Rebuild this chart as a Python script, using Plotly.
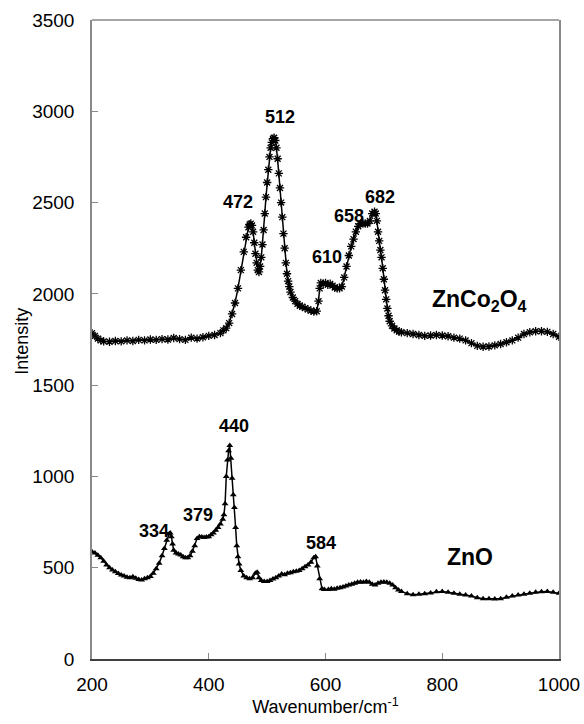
import plotly.graph_objects as go

# ---------------- data ----------------
znco_x = [200, 205, 210, 215, 220, 230, 240, 250, 260, 270, 280, 290, 300, 310, 320, 330, 340, 350,
          360, 370, 380, 390, 400, 410, 420, 425, 430, 435, 440, 445, 450, 455, 460, 464, 468, 470,
          472, 474, 476, 478, 480, 482, 484, 486, 488, 490, 492, 494, 496, 498, 500, 502, 504, 506,
          508, 510, 512, 514, 516, 518, 520, 522, 524, 526, 528, 530, 532, 534, 536, 538, 540, 544,
          548, 552, 556, 560, 565, 570, 575, 580, 585, 588, 590, 592, 596, 600, 604, 608, 612, 616,
          620, 624, 628, 632, 636, 640, 644, 648, 652, 656, 660, 664, 668, 672, 676, 680, 684, 686,
          688, 690, 692, 694, 696, 698, 700, 702, 704, 706, 708, 710, 714, 718, 722, 726, 730, 740,
          750, 760, 770, 780, 790, 800, 810, 820, 830, 840, 850, 860, 870, 880, 890, 900, 910, 920,
          930, 940, 950, 960, 970, 980, 990, 1000]
znco_y = [1785, 1770, 1755, 1745, 1740, 1738, 1742, 1740, 1745, 1742, 1748, 1745, 1750, 1748, 1752,
          1750, 1758, 1752, 1748, 1760, 1755, 1762, 1770, 1775, 1785, 1800, 1812, 1840, 1890, 1950,
          2030, 2130, 2230, 2310, 2365, 2380, 2385, 2375, 2340, 2280, 2220, 2170, 2130, 2120, 2150,
          2200, 2270, 2350, 2440, 2530, 2610, 2680, 2750, 2800, 2830, 2850, 2855, 2840, 2800, 2740,
          2660, 2580, 2500, 2420, 2330, 2250, 2170, 2110, 2070, 2040, 2010, 1980, 1960, 1945, 1935,
          1930, 1922, 1915, 1908, 1903, 1905, 1960, 2030, 2060, 2055, 2060, 2050, 2055, 2045, 2035,
          2030, 2030, 2040, 2090, 2150, 2210, 2260, 2300, 2340, 2370, 2385, 2385, 2385, 2385, 2400,
          2440, 2450, 2440, 2400, 2340, 2290, 2240, 2200, 2140, 2080, 2020, 1970, 1920, 1880, 1850,
          1825, 1810, 1800, 1793, 1790, 1785, 1780, 1775, 1770, 1772, 1775, 1772, 1768, 1760, 1755,
          1745, 1730, 1715, 1710, 1712, 1718, 1725, 1735, 1745, 1760, 1780, 1790, 1795, 1795, 1792,
          1780, 1765]

zno_x = [200, 205, 210, 215, 220, 225, 230, 235, 240, 245, 250, 255, 260, 265, 270, 275, 280, 285,
         290, 295, 300, 305, 310, 315, 320, 324, 328, 332, 334, 336, 338, 340, 344, 348, 352, 356,
         360, 364, 368, 372, 376, 380, 384, 388, 392, 396, 400, 404, 408, 412, 416, 420, 424, 426,
         428, 430, 432, 434, 436, 438, 440, 442, 444, 446, 448, 450, 452, 455, 460, 465, 470, 475,
         480, 483, 486, 490, 495, 500, 505, 510, 515, 520, 525, 530, 535, 540, 545, 550, 555, 560,
         565, 570, 575, 580, 583, 586, 590, 594, 598, 605, 610, 615, 620, 625, 630, 635, 640, 645,
         650, 655, 660, 665, 670, 675, 680, 685, 690, 695, 700, 705, 710, 715, 720, 725, 730, 740,
         750, 760, 770, 780, 790, 800, 810, 820, 830, 840, 850, 860, 870, 880, 890, 900, 910, 920,
         930, 940, 950, 960, 970, 980, 990, 1000]
zno_y = [588, 580, 568, 555, 535, 515, 500, 488, 478, 468, 460, 455, 448, 445, 450, 442, 435, 433,
         440, 445, 452, 470, 495, 525, 565, 605, 650, 685, 690, 670, 630, 595, 580, 575, 570, 560,
         555, 555, 565, 590, 620, 660, 670, 668, 665, 668, 670, 680, 690, 705, 720, 740, 765, 790,
         850, 1000, 1090, 1140, 1170, 1100, 990, 900, 830, 720, 620, 560, 520, 485, 455, 445, 440,
         445, 470, 475, 445, 430, 425, 425, 430, 438, 445, 455, 465, 462, 470, 472, 478, 480, 485,
         495, 505, 515, 530, 555, 560, 510, 440, 385, 380, 380, 385, 382, 388, 390, 395, 400, 405,
         410, 415, 420, 422, 420, 425, 420, 410, 405, 415, 420, 422, 420, 415, 405, 390, 378, 370,
         358, 352, 355, 358, 362, 368, 370, 365, 360, 355, 350, 345, 335, 330, 330, 328, 330, 338,
         345, 350, 355, 360, 365, 368, 370, 365, 360]

peak_labels = ["512", "472", "610", "658", "682", "440", "379", "334", "584"]
peak_x = [522, 450, 603, 641, 694, 443, 382, 307, 593]
peak_y = [2967, 2505, 2200, 2427, 2532, 1275, 789, 701, 634]

sample_labels = ["ZnCo<sub>2</sub>O<sub>4</sub>", "ZnO"]
sample_x = [864, 847]
sample_y = [1965, 559]

x_ticks = [200, 400, 600, 800, 1000]
y_ticks = [0, 500, 1000, 1500, 2000, 2500, 3000, 3500]

# ---------------- figure ----------------
fig = go.Figure()
fig.add_trace(go.Scatter(
    x=znco_x, y=znco_y, mode="lines+markers",
    line=dict(color="black", width=1.5),
    marker=dict(symbol="asterisk-open", size=7, color="black", line=dict(color="black", width=1.3)),
    showlegend=False))
fig.add_trace(go.Scatter(
    x=zno_x, y=zno_y, mode="lines+markers",
    line=dict(color="black", width=1.5),
    marker=dict(symbol="triangle-up", size=6, color="black"),
    showlegend=False))

for t, xx, yy in zip(peak_labels, peak_x, peak_y):
    fig.add_annotation(x=xx, y=yy, text="<b>" + t + "</b>", showarrow=False,
                       font=dict(family="Liberation Sans, Arial", size=18, color="black"),
                       xanchor="center", yanchor="middle")
for t, xx, yy in zip(sample_labels, sample_x, sample_y):
    fig.add_annotation(x=xx, y=yy, text="<b>" + t + "</b>", showarrow=False,
                       font=dict(family="Liberation Sans, Arial", size=23, color="black"),
                       xanchor="center", yanchor="middle")

# y axis title
fig.add_annotation(xref="paper", yref="paper", x=-0.1499, y=0.498, text="Intensity",
                   textangle=-90, showarrow=False, xanchor="center", yanchor="middle",
                   font=dict(family="Liberation Sans, Arial", size=18, color="black"))

# gray top border of the plot box
fig.add_shape(type="line", xref="paper", yref="paper", x0=0, x1=1, y0=1, y1=1,
              line=dict(color="#898989", width=1.5))

fig.update_layout(
    width=584, height=724,
    margin=dict(l=92, r=25, t=20, b=65),
    paper_bgcolor="white", plot_bgcolor="white",
    font=dict(family="Liberation Sans, Arial", size=19, color="black"),
    xaxis=dict(range=[200, 1000], tickvals=x_ticks, ticks="inside", ticklen=6,
               tickcolor="#898989", showline=True, linecolor="#404040", linewidth=2,
               showgrid=False, zeroline=False, ticklabelstandoff=7, automargin=False,
               title=dict(text="Wavenumber/cm<sup>-1</sup>", font=dict(size=18), standoff=7)),
    yaxis=dict(range=[0, 3500], tickvals=y_ticks, ticks="inside", ticklen=6,
               tickcolor="#898989", showline=True, linecolor="#898989", linewidth=1.5,
               mirror=True, showgrid=False, zeroline=False, ticklabelstandoff=12,
               automargin=False),
)

fig.write_html("out.html")
